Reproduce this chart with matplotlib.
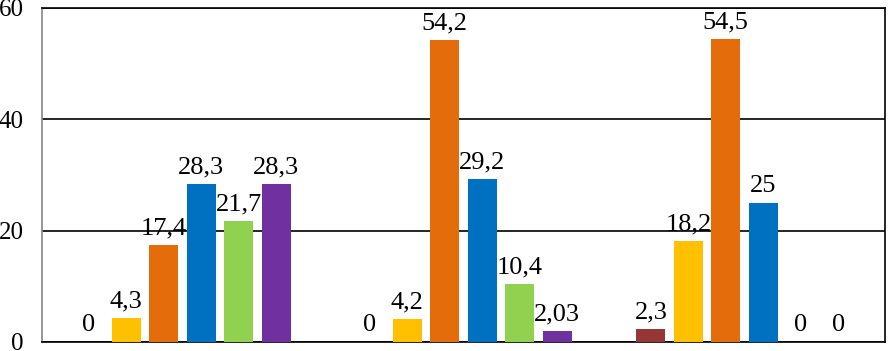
import numpy as np
import matplotlib.pyplot as plt

plt.rcParams['font.family'] = ['Liberation Serif', 'DejaVu Serif']

groups = ['1', '2', '3']
series_colors = ['#953735', '#FFC000', '#E46C0A', '#0070C0', '#92D050', '#7030A0']
values = [
    [0, 0, 2.3],        # dark red
    [4.3, 4.2, 18.2],   # yellow
    [17.4, 54.2, 54.5], # orange
    [28.3, 29.2, 25],   # blue
    [21.7, 10.4, 0],    # green
    [28.3, 2.03, 0],    # purple
]
labels = [
    ['0', '0', '2,3'],
    ['4,3', '4,2', '18,2'],
    ['17,4', '54,2', '54,5'],
    ['28,3', '29,2', '25'],
    ['21,7', '10,4', '0'],
    ['28,3', '2,03', '0'],
]

fig = plt.figure(figsize=(8.88, 3.51), dpi=100)
ax = fig.add_axes([42 / 888, 1 - 342 / 351, 843 / 888, 334 / 351])

x = np.arange(len(groups))
step = 0.8 / 6
width = 0.103
for i in range(6):
    pos = x - 0.4 + step * (i + 0.5)
    bars = ax.bar(pos, values[i], width, color=series_colors[i], zorder=3)
    for b, v, lab in zip(bars, values[i], labels[i]):
        ax.annotate(lab, (b.get_x() + b.get_width() / 2, v), xytext=(0, 4),
                    textcoords='offset points', ha='center', va='bottom',
                    fontsize=19, zorder=4)

ax.set_xlim(-0.5, 2.5)
ax.set_ylim(0, 60)
ax.set_yticks([0, 20, 40, 60])
ax.set_xticks([])
ax.tick_params(axis='y', length=0, pad=13, labelsize=18)
ax.grid(axis='y', color='black', linewidth=1.2, zorder=0)
for s in ['top', 'right']:
    ax.spines[s].set_color('black')
    ax.spines[s].set_linewidth(1.2)
ax.spines['left'].set_color('#868686')
ax.spines['left'].set_linewidth(1.2)
ax.spines['bottom'].set_color('black')
ax.spines['bottom'].set_linewidth(1.2)

fig.savefig('out.png', dpi=100)
